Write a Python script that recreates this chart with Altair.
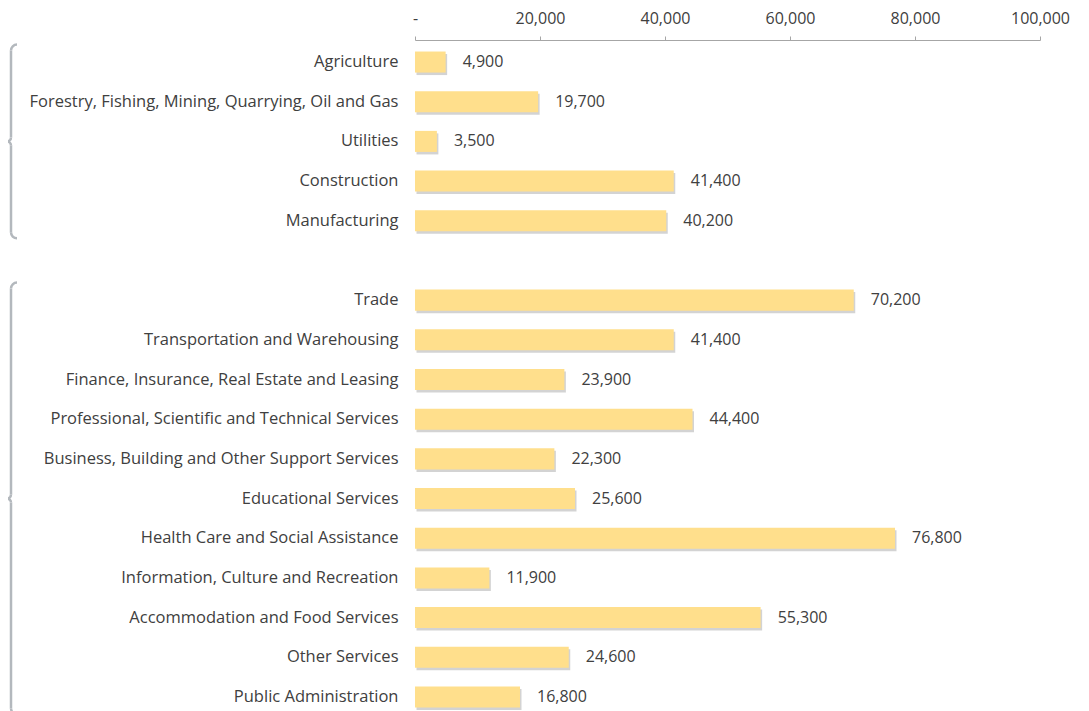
import math
import altair as alt
import pandas as pd

# ---------------- data ----------------
industries = [
    "Agriculture",
    "Forestry, Fishing, Mining, Quarrying, Oil and Gas",
    "Utilities",
    "Construction",
    "Manufacturing",
    "Trade",
    "Transportation and Warehousing",
    "Finance, Insurance, Real Estate and Leasing",
    "Professional, Scientific and Technical Services",
    "Business, Building and Other Support Services",
    "Educational Services",
    "Health Care and Social Assistance",
    "Information, Culture and Recreation",
    "Accommodation and Food Services",
    "Other Services",
    "Public Administration",
]
employment = [4900, 19700, 3500, 41400, 40200, 70200, 41400, 23900,
              44400, 22300, 25600, 76800, 11900, 55300, 24600, 16800]
gap_label = " "
row_order = industries[:5] + [gap_label] + industries[5:]
x_ticks = [0, 20000, 40000, 60000, 80000, 100000]

# brace groups: (first row, middle row, last row)
brace_top = ["Agriculture", "Trade"]
brace_mid = ["Utilities", "Educational Services"]
brace_bot = ["Manufacturing", "Public Administration"]

df = pd.DataFrame({"Industry": industries, "Employment": employment})

# ---------------- style ----------------
FONT = "Open Sans"
TXT = "#404040"
BAR = "#FFDF8C"
BRACE = "#B3B8BD"

xscale = alt.Scale(domain=[0, 100000], nice=False)
yscale = alt.Scale(domain=row_order, paddingInner=0.47, paddingOuter=0.24)

xaxis = alt.Axis(orient="top", values=x_ticks, title=None, grid=False,
                 labelExpr="datum.value == 0 ? '-' : format(datum.value, ',')",
                 labelFont=FONT, labelFontSize=16, labelColor=TXT,
                 labelFlush=False, labelOverlap=False,
                 labelPadding=10, tickSize=4, tickColor="#A6A6A6",
                 domainColor="#A6A6A6", offset=2)
yaxis = alt.Axis(title=None, ticks=False, domain=False, labelLimit=0,
                 labelFont=FONT, labelFontSize=16.5, labelColor=TXT,
                 labelPadding=17)

X = alt.X("Employment:Q", scale=xscale, axis=xaxis)
Y = alt.Y("Industry:N", scale=yscale, axis=yaxis)

base = alt.Chart(df)
shadow = base.mark_bar(color="#808080", opacity=0.35, xOffset=1.5,
                       yOffset=2.5).encode(x=X, y=Y)
bars = base.mark_bar(color=BAR).encode(x=X, y=Y)
labels = base.mark_text(align="left", baseline="middle", dx=17, font=FONT,
                        fontSize=16, color=TXT).encode(
    x=X, y=Y, text=alt.Text("Employment:Q", format=",.0f"))

# ---------------- braces (decoration) ----------------
XV = -404      # vertical stroke position relative to plot origin
R = 6          # curl radius
RC = 4         # cusp radius
W = 2.5        # stroke width
EXT = 7        # how far a brace reaches beyond its outer bands

bdf = pd.DataFrame({"top": brace_top, "mid": brace_mid, "bot": brace_bot})
bchart = alt.Chart(bdf)

upper = bchart.mark_rule(color=BRACE, strokeWidth=W, yOffset=R - EXT,
                         y2Offset=-RC).encode(
    x=alt.value(XV),
    y=alt.Y("top:N", bandPosition=0, scale=yscale, axis=yaxis),
    y2=alt.Y2("mid", bandPosition=0.5))
lower = bchart.mark_rule(color=BRACE, strokeWidth=W, yOffset=RC,
                         y2Offset=EXT - R).encode(
    x=alt.value(XV),
    y=alt.Y("mid:N", bandPosition=0.5, scale=yscale, axis=yaxis),
    y2=alt.Y2("bot", bandPosition=1))


def arc(field, band, cx, yoff, t0, t1, r):
    return bchart.mark_arc(color=BRACE, theta=t0, theta2=t1,
                           radius=r + W / 2, radius2=r - W / 2,
                           yOffset=yoff).encode(
        x=alt.value(cx),
        y=alt.Y(field + ":N", bandPosition=band, scale=yscale, axis=yaxis))


pi = math.pi
top_curl = arc("top", 0, XV + R, R - EXT, 1.5 * pi, 2 * pi, R)
bot_curl = arc("bot", 1, XV + R, EXT - R, pi, 1.5 * pi, R)
cusp_up = arc("mid", 0.5, XV - RC, -RC, 0.5 * pi, pi, RC)
cusp_lo = arc("mid", 0.5, XV - RC, RC, 0, 0.5 * pi, RC)

chart = alt.layer(
    shadow, bars, labels, upper, lower, top_curl, bot_curl, cusp_up, cusp_lo
).properties(
    width=625, height=675, background="white",
    padding={"left": 407, "top": 34, "right": 40, "bottom": 0},
    autosize=alt.AutoSizeParams(type="none"),
).configure_view(strokeWidth=0, stroke=None)

chart.save("out.html", embed_options={"renderer": "svg", "actions": False})
